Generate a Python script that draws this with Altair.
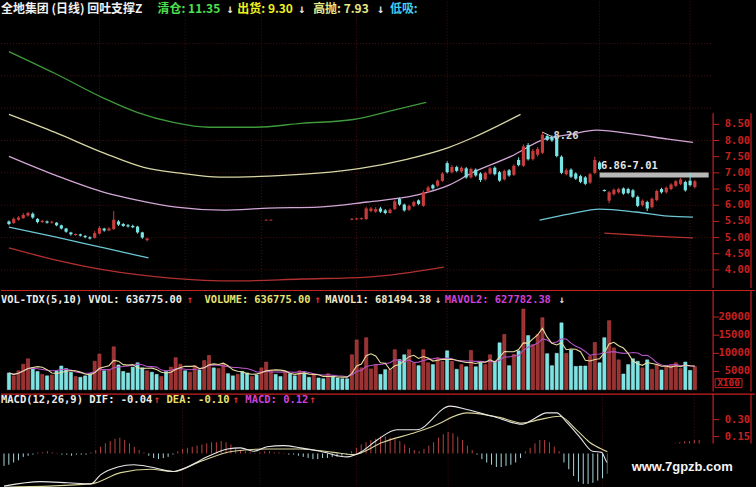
import altair as alt
import pandas as pd

# ---------------- data ----------------
# candlesticks: trading-day index and OHLC
cd_day = list(range(0, 30)) + [54, 55] + list(range(72, 145))
cd_open = [5.50, 5.45, 5.55, 5.60, 5.68, 5.74, 5.58, 5.48, 5.50, 5.46,
           5.46, 5.38, 5.28, 5.16, 5.08, 5.10, 5.05, 5.01, 4.99, 5.12,
           5.28, 5.22, 5.26, 5.50, 5.42, 5.38, 5.36, 5.34, 5.16, 4.92,
           5.53, 5.53,
           5.55, 5.56, 5.57, 5.57, 5.82, 5.80, 5.90, 5.84, 5.76, 5.88,
           6.20, 6.02, 5.86, 5.98, 6.15, 5.98, 6.42, 6.62, 6.60, 6.75,
           7.30, 7.02, 7.18, 7.04, 7.14, 6.86, 7.10, 6.98, 6.80, 6.98,
           7.16, 7.02, 6.80, 7.08, 6.94, 7.40, 7.22, 7.86, 7.42, 7.56,
           7.62, 8.14, 8.10, 8.08, 7.50, 6.96, 7.10, 6.98, 6.90, 6.86,
           6.70, 7.00, 7.32,
           6.47, 6.14, 6.34, 6.40, 6.52, 6.50, 6.46, 6.26, 6.00, 6.10,
           5.94, 6.16, 6.50, 6.40, 6.50, 6.60, 6.66, 6.72, 6.76, 6.56]
cd_close = [5.42, 5.58, 5.62, 5.70, 5.76, 5.62, 5.48, 5.52, 5.46, 5.49,
            5.38, 5.28, 5.18, 5.10, 5.11, 5.06, 5.01, 4.97, 5.14, 5.30,
            5.22, 5.28, 5.55, 5.40, 5.36, 5.34, 5.32, 5.16, 5.00, 4.97,
            5.55, 5.55,
            5.58, 5.59, 5.60, 5.90, 5.90, 5.88, 5.80, 5.76, 5.86, 6.12,
            6.02, 5.84, 5.98, 6.10, 6.04, 6.40, 6.55, 6.52, 6.76, 6.98,
            7.02, 7.18, 7.06, 7.16, 6.86, 7.12, 6.92, 6.78, 7.00, 7.14,
            6.96, 6.76, 7.06, 6.92, 7.22, 7.24, 7.82, 7.42, 7.68, 7.74,
            8.18, 8.02, 8.00, 7.52, 7.00, 7.08, 6.88, 6.82, 6.72, 6.66,
            6.96, 7.40, 7.12,
            6.44, 6.40, 6.48, 6.50, 6.36, 6.38, 6.26, 5.98, 6.14, 5.90,
            6.20, 6.44, 6.40, 6.54, 6.64, 6.74, 6.80, 6.46, 6.62, 6.74]
cd_high = [5.53, 5.62, 5.66, 5.76, 5.80, 5.78, 5.60, 5.55, 5.53, 5.52,
           5.48, 5.40, 5.30, 5.18, 5.13, 5.12, 5.08, 5.04, 5.20, 5.36,
           5.30, 5.32, 5.82, 5.54, 5.45, 5.42, 5.40, 5.36, 5.18, 5.00,
           5.56, 5.56,
           5.60, 5.61, 5.62, 5.95, 5.95, 5.94, 5.95, 5.88, 5.90, 6.18,
           6.24, 6.05, 6.02, 6.14, 6.18, 6.46, 6.60, 6.66, 6.80, 7.02,
           7.36, 7.24, 7.22, 7.20, 7.18, 7.16, 7.14, 7.02, 7.04, 7.18,
           7.20, 7.06, 7.10, 7.12, 7.26, 7.48, 7.88, 7.92, 7.74, 7.80,
           8.26, 8.20, 8.16, 8.12, 7.54, 7.14, 7.14, 7.02, 6.94, 6.90,
           7.00, 7.50, 7.36,
           6.49, 6.44, 6.52, 6.54, 6.55, 6.54, 6.50, 6.30, 6.18, 6.14,
           6.24, 6.48, 6.54, 6.58, 6.68, 6.78, 6.84, 6.76, 7.00, 6.78]
cd_low = [5.38, 5.42, 5.52, 5.58, 5.65, 5.58, 5.44, 5.45, 5.43, 5.43,
          5.35, 5.25, 5.15, 5.06, 5.05, 5.03, 4.98, 4.94, 4.97, 5.10,
          5.18, 5.20, 5.24, 5.36, 5.33, 5.31, 5.29, 5.12, 4.96, 4.88,
          5.52, 5.52,
          5.54, 5.55, 5.55, 5.55, 5.78, 5.76, 5.76, 5.72, 5.74, 5.85,
          5.98, 5.80, 5.82, 5.94, 6.00, 5.95, 6.38, 6.48, 6.56, 6.72,
          6.98, 6.98, 7.02, 7.00, 6.82, 6.82, 6.88, 6.72, 6.76, 6.94,
          6.92, 6.72, 6.76, 6.88, 6.90, 7.20, 7.18, 7.38, 7.38, 7.50,
          7.58, 7.98, 7.96, 7.48, 6.96, 6.92, 6.84, 6.78, 6.68, 6.62,
          6.66, 6.96, 7.08,
          6.42, 6.06, 6.30, 6.36, 6.32, 6.34, 6.22, 5.94, 5.96, 5.82,
          5.90, 6.12, 6.36, 6.36, 6.46, 6.56, 6.62, 6.42, 6.58, 6.52]

# daily volume (x100 shares) and bar colour: r = up day, c = down day
volume = [4600, 3800, 5200, 7000, 8500, 6000, 5000, 4200, 3800, 4000,
          5200, 6500, 5800, 4800, 3600, 3400, 3800, 4500, 7800, 9800,
          5200, 5600, 11800, 6800, 5000, 4600, 6200, 7400, 6000, 5200,
          4800, 4200, 3600, 5000, 6200, 8800, 7000, 5200, 4800, 6600,
          5400, 8000, 9400, 6000, 5800, 7200, 4400, 3800, 4200, 5000,
          4600, 3600, 4000, 6000, 7600, 5400, 4200, 3600, 5000, 4400,
          3800, 5200, 4600, 3400, 4000, 3200, 3000, 4400, 3600, 3200,
          3000, 3000, 9600, 13700, 6000, 14300, 5700, 6700, 4200, 5500,
          5500, 11000, 8300, 9600, 11000, 7400, 6600, 11000, 7400, 6900,
          8600, 7800, 10700, 7800, 5600, 6900, 6300, 10800, 6300, 7400,
          6900, 9600, 7800, 12900, 15200, 6600, 9700, 10700, 22200, 14900,
          12400, 15200, 19800, 9900, 6600, 10000, 18400, 10000, 10900, 6400,
          6500, 6500, 9200, 13000, 7400, 14300, 19000, 11500, 8200, 4300,
          6900, 8500, 7800, 6000, 8200, 5600, 7000, 5400, 6200, 6800,
          7400, 5800, 7600, 5300, 6368]
vol_dir = ("crrrrccrcr" "ccccrcccrr" "crrccccccr" "ccrcrrrcrr" "crrcrrccrc"
           "crcrrrccrc" "crccrccrcc" "ccrrrrrrcc" "rrccrrcrrc" "rrcrcrcrcc"
           "rrccrcrcrc" "rrrccccrcc" "ccrrccrrrc" "cccrcrrcrr" "rrccr")

# MACD histogram per day
macd_hist = [-0.11, -0.10, -0.08, -0.06, -0.03, -0.02, -0.01, 0.01, 0.01, 0.02,
             0.01, 0.005, -0.01, -0.01, -0.02, -0.01, -0.01, -0.01, 0.01, 0.03,
             0.06, 0.09, 0.11, 0.13, 0.14, 0.12, 0.09, 0.06, 0.03, 0.01,
             -0.02, -0.04, -0.05, -0.04, -0.03, -0.01, 0.02, 0.04, 0.05, 0.06,
             0.07, 0.08, 0.09, 0.10, 0.10, 0.11, 0.10, 0.08, 0.05, 0.03,
             0.02, 0.01, 0.005, 0.01, 0.02, 0.02, 0.01, 0.01, 0.005, -0.01,
             -0.01, -0.02, -0.03, -0.04, -0.05, -0.05, -0.04, -0.04, -0.03, -0.03,
             -0.02, -0.01, 0.02, 0.05, 0.08, 0.10, 0.12, 0.13, 0.15, 0.15,
             0.14, 0.13, 0.11, 0.08, 0.05, 0.03, 0.02, 0.04, 0.07, 0.10,
             0.14, 0.17, 0.19, 0.18, 0.15, 0.12, 0.07, 0.03, -0.01, -0.05,
             -0.08, -0.10, -0.12, -0.12, -0.11, -0.10, -0.08, -0.04, 0.02, 0.05,
             0.09, 0.12, 0.12, 0.10, 0.06, 0.02, -0.08, -0.14, -0.20, -0.25,
             -0.27, -0.27, -0.26, -0.24, -0.22, -0.18, -0.14, -0.10, -0.06, -0.03,
             0.00, 0.02, 0.04, 0.05, 0.06, 0.07, 0.08, 0.08, 0.085, 0.09,
             0.10, 0.11, 0.11, 0.12, 0.12]

# DIF / DEA lines (day, value)
dif_day = [0, 7.6, 13.2, 18, 20, 23.6, 26.9, 30.4, 35.1, 38, 42.1, 46.3, 49, 51.7,
           54.5, 57.9, 61.4, 65.5, 71.1, 73.8, 77.3, 81.4, 85.5, 92.4, 95.9, 101.2,
           107.4, 109.5, 112.4, 114.5, 116.5, 119.2, 121.9, 123.8, 125, 130, 136, 144]
dif_val = [-0.29, -0.25, -0.26, -0.27, -0.19, -0.12, -0.10, -0.12, -0.16, -0.12, -0.03,
           0.04, 0.05, 0.02, 0.06, 0.07, 0.05, 0.02, -0.03, 0.01, 0.12, 0.21, 0.21,
           0.42, 0.39, 0.33, 0.26, 0.30, 0.36, 0.36, 0.28, 0.15, 0.02, 0.01, -0.08,
           -0.10, -0.08, -0.04]
dea_day = [0, 18, 24.2, 30.4, 35.1, 40.7, 47.5, 54.5, 61.4, 68.2, 72.3, 78.5, 85.5,
           88.8, 95.9, 102.7, 107.4, 110.9, 115.1, 118.6, 121.3, 124.8, 129, 135, 144]
dea_val = [-0.30, -0.27, -0.17, -0.14, -0.16, -0.07, 0.02, 0.04, 0.04, 0.01, -0.01,
           0.10, 0.19, 0.24, 0.36, 0.32, 0.27, 0.30, 0.33, 0.21, 0.10, 0.02, -0.06,
           -0.10, -0.10]

# support / pressure bands (day, price), each split into drawn segments
green_day = [0, 9.7, 20.0, 26.9, 34.5, 42.1, 51.7, 61.4, 72.3, 80.6, 87.6]
green_val = [10.75, 10.07, 9.30, 8.87, 8.56, 8.41, 8.41, 8.53, 8.65, 8.93, 9.18]
yellow_day = [0, 9.7, 20.0, 28.3, 36.0, 44.2, 54.5, 64.9, 73.8, 83.5, 92.4, 97.1, 107.4]
yellow_val = [8.81, 8.25, 7.61, 7.17, 6.99, 6.87, 6.90, 6.99, 7.14, 7.42, 7.79, 8.07, 8.81]
violet_day = [0, 9.7, 20.0, 26.9, 35.1, 44.8, 54.5, 64.9, 75.2, 85.5, 92.4, 97.1,
              105.4, 112.4, 117.8, 123.3, 131.6, 138.4, 143.6]
violet_val = [7.51, 6.93, 6.40, 6.16, 5.94, 5.85, 5.91, 5.94, 6.10, 6.31, 6.62, 6.99,
              7.51, 8.04, 8.19, 8.32, 8.19, 8.04, 7.94]
cyan1_day = [0, 9.7, 20.0, 29.3]
cyan1_val = [5.32, 5.02, 4.68, 4.37]
cyan2_day = [111.4, 117.8, 124.0, 131.6, 138.4, 143.6]
cyan2_val = [5.54, 5.73, 5.88, 5.79, 5.66, 5.63]
red1_day = [0, 9.7, 20.0, 33.9, 47.5, 61.4, 75.2, 91.3]
red1_val = [4.68, 4.31, 4.00, 3.75, 3.66, 3.72, 3.78, 4.09]
red2_day = [125.0, 131.6, 138.4, 143.6]
red2_val = [5.14, 5.08, 5.02, 4.99]

# highlighted price zone
zone_low, zone_high = 6.86, 7.01
zone_start, zone_end = 124, 146.9

# month separators and tick labels
month_days = [19, 37, 53, 73, 92, 124, 143]
price_grid = [4, 5, 6, 7, 8, 9, 10, 11]
price_ticks = [4.0, 4.5, 5.0, 5.5, 6.0, 6.5, 7.0, 7.5, 8.0, 8.5]
vol_ticks = [5000, 10000, 15000, 20000]
macd_ticks = [0.15, 0.30]

# ---------------- layout / style ----------------
W = 756
H_PRICE, H_VOL, H_MACD = 287, 102, 98
AXIS_X, EDGE_X = 714, 752
AXIS_TOP = 112
RED_UP, CYAN_DN = "#c83c3c", "#78e4e4"
AXIS_RED = "#c82020"
GRID = "#4a1010"
MONO = "DejaVu Sans Mono"
CJK = "Noto Sans CJK SC"

xs = alt.Scale(domain=[-0.62, 155.58], nice=False, zero=False)
X = alt.X("day:Q", scale=xs, axis=None)
price_scale = alt.Scale(domain=[3.445, 12.292], nice=False, zero=False)
vol_scale = alt.Scale(domain=[-549, 27473], nice=False, zero=False)
macd_scale = alt.Scale(domain=[-0.336, 0.531], nice=False, zero=False)

UP = alt.datum.dir == "r"
DOWN = alt.datum.dir == "c"


def txt(s, x, y, color, size=10.5, font=MONO, weight="bold", align="left"):
    return alt.Chart(pd.DataFrame({"t": [s]})).mark_text(
        align=align, baseline="middle", font=font, fontSize=size,
        fontWeight=weight, color=color
    ).encode(x=alt.value(x), y=alt.value(y), text="t:N")


def vline(x, y0, y1, color=AXIS_RED, width=1.2):
    return alt.Chart(pd.DataFrame({"k": [0]})).mark_rule(color=color, strokeWidth=width).encode(
        x=alt.value(x), y=alt.value(y0), y2=alt.value(y1))


def hline(y, color=AXIS_RED, width=1.2):
    return alt.Chart(pd.DataFrame({"k": [0]})).mark_rule(color=color, strokeWidth=width).encode(
        x=alt.value(0), x2=alt.value(W), y=alt.value(y))


def month_rules(h):
    return alt.Chart(pd.DataFrame({"day": month_days})).mark_rule(
        color=GRID, strokeWidth=1, strokeDash=[1, 2]
    ).encode(x=X, y=alt.value(0), y2=alt.value(h))


def right_labels(vals, fmt, scale):
    df = pd.DataFrame({"v": vals, "t": [fmt(v) for v in vals]})
    labels = alt.Chart(df).mark_text(
        align="right", baseline="middle", font=MONO, fontSize=10.5, fontWeight="bold", color=AXIS_RED
    ).encode(x=alt.value(751), y=alt.Y("v:Q", scale=scale, axis=None), text="t:N")
    ticks = alt.Chart(df).mark_rule(color=AXIS_RED, strokeWidth=1).encode(
        x=alt.value(AXIS_X), x2=alt.value(AXIS_X + 6), y=alt.Y("v:Q", scale=scale, axis=None))
    return labels + ticks


# ---------------- price panel ----------------
candles = pd.DataFrame({"day": cd_day, "o": cd_open, "c": cd_close, "h": cd_high, "l": cd_low})
candles["dir"] = ["r" if c >= o else "c" for o, c in zip(candles["o"], candles["c"])]

PY = alt.Y("p:Q", scale=price_scale, axis=None)

hgrid = alt.Chart(pd.DataFrame({"p": price_grid})).mark_rule(
    color=GRID, strokeWidth=1, strokeDash=[1, 2]).encode(x=alt.value(0), x2=alt.value(AXIS_X), y=PY)


def band(days, vals, color):
    return alt.Chart(pd.DataFrame({"day": days, "p": vals})).mark_line(
        color=color, strokeWidth=1.3, interpolate="monotone").encode(x=X, y=PY)


band_lines = [
    band(green_day, green_val, "#3f9a3c"),
    band(yellow_day, yellow_val, "#d8d6a4"),
    band(violet_day, violet_val, "#d2a6d6"),
    band(cyan1_day, cyan1_val, "#6cc6d4"),
    band(cyan2_day, cyan2_val, "#6cc6d4"),
    band(red1_day, red1_val, "#b23030"),
    band(red2_day, red2_val, "#b23030"),
]

zone = alt.Chart(pd.DataFrame({"day": [zone_start], "day2": [zone_end],
                               "p": [zone_low], "p2": [zone_high]})).mark_rect(color="#b8b8b8").encode(
    x=X, x2="day2:Q", y=PY, y2="p2:Q")
zone_label = alt.Chart(pd.DataFrame({"day": [zone_start + 0.3], "p": [zone_high],
                                     "t": [f"{zone_low:.2f}-{zone_high:.2f}"]})).mark_text(
    align="left", baseline="middle", dy=-7, font=MONO, fontSize=10.5, fontWeight="bold", color="#e6e6e6"
).encode(x=X, y=PY, text="t:N")

LY = alt.Y("l:Q", scale=price_scale, axis=None)
OY = alt.Y("o:Q", scale=price_scale, axis=None)
candle_layers = []
for cond, col in [(UP, RED_UP), (DOWN, CYAN_DN)]:
    base = alt.Chart(candles).transform_filter(cond)
    candle_layers.append(base.mark_rule(strokeWidth=1, color=col).encode(x=X, y=LY, y2="h:Q"))
    candle_layers.append(base.mark_bar(size=3.2, color=col).encode(x=X, y=OY, y2="c:Q"))

peak_i = max(range(len(cd_high)), key=lambda k: cd_high[k])
peak_day, peak_val = cd_day[peak_i], cd_high[peak_i]
peak_leader = alt.Chart(pd.DataFrame({"day": [peak_day], "day2": [peak_day + 2],
                                      "p": [peak_val], "p2": [peak_val - 0.14]})).mark_rule(
    color="#d0d0d0", strokeWidth=1).encode(x=X, x2="day2:Q", y=PY, y2="p2:Q")
peak_label = alt.Chart(pd.DataFrame({"day": [peak_day + 2.3], "p": [peak_val],
                                     "t": [f"{peak_val:.2f}"]})).mark_text(
    align="left", baseline="middle", dy=4, font=MONO, fontSize=10.5, fontWeight="bold", color="#d8d8d8"
).encode(x=X, y=PY, text="t:N")

title_row = [
    txt("全地集团 (日线) 回吐支撑Z", 0, 7, "#f0f0f0", 12, CJK),
    txt("清仓: 11.35", 157, 7, "#4ee04e", 12, CJK),
    txt("↓", 226, 7, "#e0e0e0", 12, MONO),
    txt("出货: 9.30", 237, 7, "#f0f020", 12, CJK),
    txt("↓", 298, 7, "#e0e0e0", 12, MONO),
    txt("高抛: 7.93", 313, 7, "#e8e888", 12, CJK),
    txt("↓", 377, 7, "#e0e0e0", 12, MONO),
    txt("低吸:", 390, 7, "#40d0f0", 12, CJK),
]

price_panel = alt.layer(
    hgrid, month_rules(H_PRICE), *band_lines, zone, *candle_layers, zone_label,
    peak_leader, peak_label,
    right_labels(price_ticks, lambda v: f"{v:.2f}", price_scale),
    vline(AXIS_X, AXIS_TOP, H_PRICE), vline(EDGE_X, AXIS_TOP, H_PRICE), *title_row
).properties(width=W, height=H_PRICE)

# ---------------- volume panel ----------------
vol_df = pd.DataFrame({"day": list(range(len(volume))), "vol": volume, "dir": list(vol_dir)})
VY = alt.Y("vol:Q", scale=vol_scale, axis=None)
vol_bars = [
    alt.Chart(vol_df).transform_filter(UP).mark_bar(
        size=3.2, color="#9a3232", stroke="#c44848", strokeWidth=0.5).encode(x=X, y=VY, y2=alt.datum(0)),
    alt.Chart(vol_df).transform_filter(DOWN).mark_bar(
        size=3.2, color=CYAN_DN, stroke="#a8f0f0", strokeWidth=0.5).encode(x=X, y=VY, y2=alt.datum(0)),
]
ma5 = alt.Chart(vol_df).transform_window(
    m="mean(vol)", frame=[-4, 0], sort=[alt.SortField("day")]
).mark_line(color="#e8dca0", strokeWidth=1.1).encode(x=X, y=alt.Y("m:Q", scale=vol_scale, axis=None))
ma10 = alt.Chart(vol_df).transform_window(
    m="mean(vol)", frame=[-9, 0], sort=[alt.SortField("day")]
).mark_line(color="#b452c4", strokeWidth=1.1).encode(x=X, y=alt.Y("m:Q", scale=vol_scale, axis=None))

x100_box = alt.Chart(pd.DataFrame({"k": [0]})).mark_rect(
    fill="#000000", stroke=AXIS_RED, strokeWidth=1).encode(
    x=alt.value(716), x2=alt.value(743), y=alt.value(89), y2=alt.value(98))

vol_header = [
    txt("VOL-TDX(5,10) VVOL: 636775.00", 0, 10, "#ececec", 10.4),
    txt("↑", 186, 10, "#e03030", 10.4),
    txt("VOLUME: 636775.00", 204, 10, "#e8e070", 10.4),
    txt("↑", 314, 10, "#e03030", 10.4),
    txt("MAVOL1: 681494.38", 325, 10, "#f0e8c4", 10.4),
    txt("↓", 435, 10, "#e0e0e0", 10.4),
    txt("MAVOL2: 627782.38", 445, 10, "#d040d8", 10.4),
    txt("↓", 559, 10, "#e0e0e0", 10.4),
]

vol_panel = alt.layer(
    month_rules(H_VOL), *vol_bars, ma10, ma5,
    right_labels(vol_ticks, lambda v: f"{v}", vol_scale),
    x100_box, txt("X100", 729.5, 93.5, AXIS_RED, 9.5, MONO, "bold", "center"),
    vline(AXIS_X, 0, H_VOL), vline(EDGE_X, 0, H_VOL), hline(0.6), *vol_header
).properties(width=W, height=H_VOL)

# ---------------- MACD panel ----------------
MY = alt.Y("v:Q", scale=macd_scale, axis=None)
hist_df = pd.DataFrame({"day": list(range(len(macd_hist))), "v": macd_hist})
hist = [
    alt.Chart(hist_df).transform_filter(alt.datum.v >= 0).mark_rule(
        strokeWidth=1, color="#b84040").encode(x=X, y=MY, y2=alt.datum(0)),
    alt.Chart(hist_df).transform_filter(alt.datum.v < 0).mark_rule(
        strokeWidth=1, color="#a8d8dc").encode(x=X, y=MY, y2=alt.datum(0)),
]
dif = alt.Chart(pd.DataFrame({"day": dif_day, "v": dif_val})).mark_line(
    color="#e8e8e8", strokeWidth=1.1, interpolate="monotone").encode(x=X, y=MY)
dea = alt.Chart(pd.DataFrame({"day": dea_day, "v": dea_val})).mark_line(
    color="#d8d49a", strokeWidth=1.1, interpolate="monotone").encode(x=X, y=MY)

stamp_box = alt.Chart(pd.DataFrame({"k": [0]})).mark_rect(color="#000000").encode(
    x=alt.value(608), x2=alt.value(W), y=alt.value(50), y2=alt.value(H_MACD))

macd_header = [
    txt("MACD(12,26,9) DIF: -0.04", 0, 6, "#ececec", 10.5),
    txt("↑", 153, 6, "#e03030", 10.5),
    txt("DEA: -0.10", 166, 6, "#e8e070", 10.5),
    txt("↑", 232, 6, "#e03030", 10.5),
    txt("MACD: 0.12", 245, 6, "#d040d8", 10.5),
    txt("↑", 309, 6, "#e03030", 10.5),
]

macd_panel = alt.layer(
    month_rules(H_MACD), *hist, dea, dif,
    right_labels(macd_ticks, lambda v: f"{v:.2f}", macd_scale),
    vline(AXIS_X, 0, H_MACD), vline(EDGE_X, 0, H_MACD), hline(0.6),
    stamp_box, txt("www.7gpzb.com", 683, 74, "#f4f4f4", 13, "Liberation Sans", "bold", "center"),
    *macd_header
).properties(width=W, height=H_MACD)

chart = alt.vconcat(price_panel, vol_panel, macd_panel, spacing=0).configure(
    background="#000000", padding=0
).configure_view(stroke=None)

chart.save("out.html", embed_options={"renderer": "svg", "actions": False})
